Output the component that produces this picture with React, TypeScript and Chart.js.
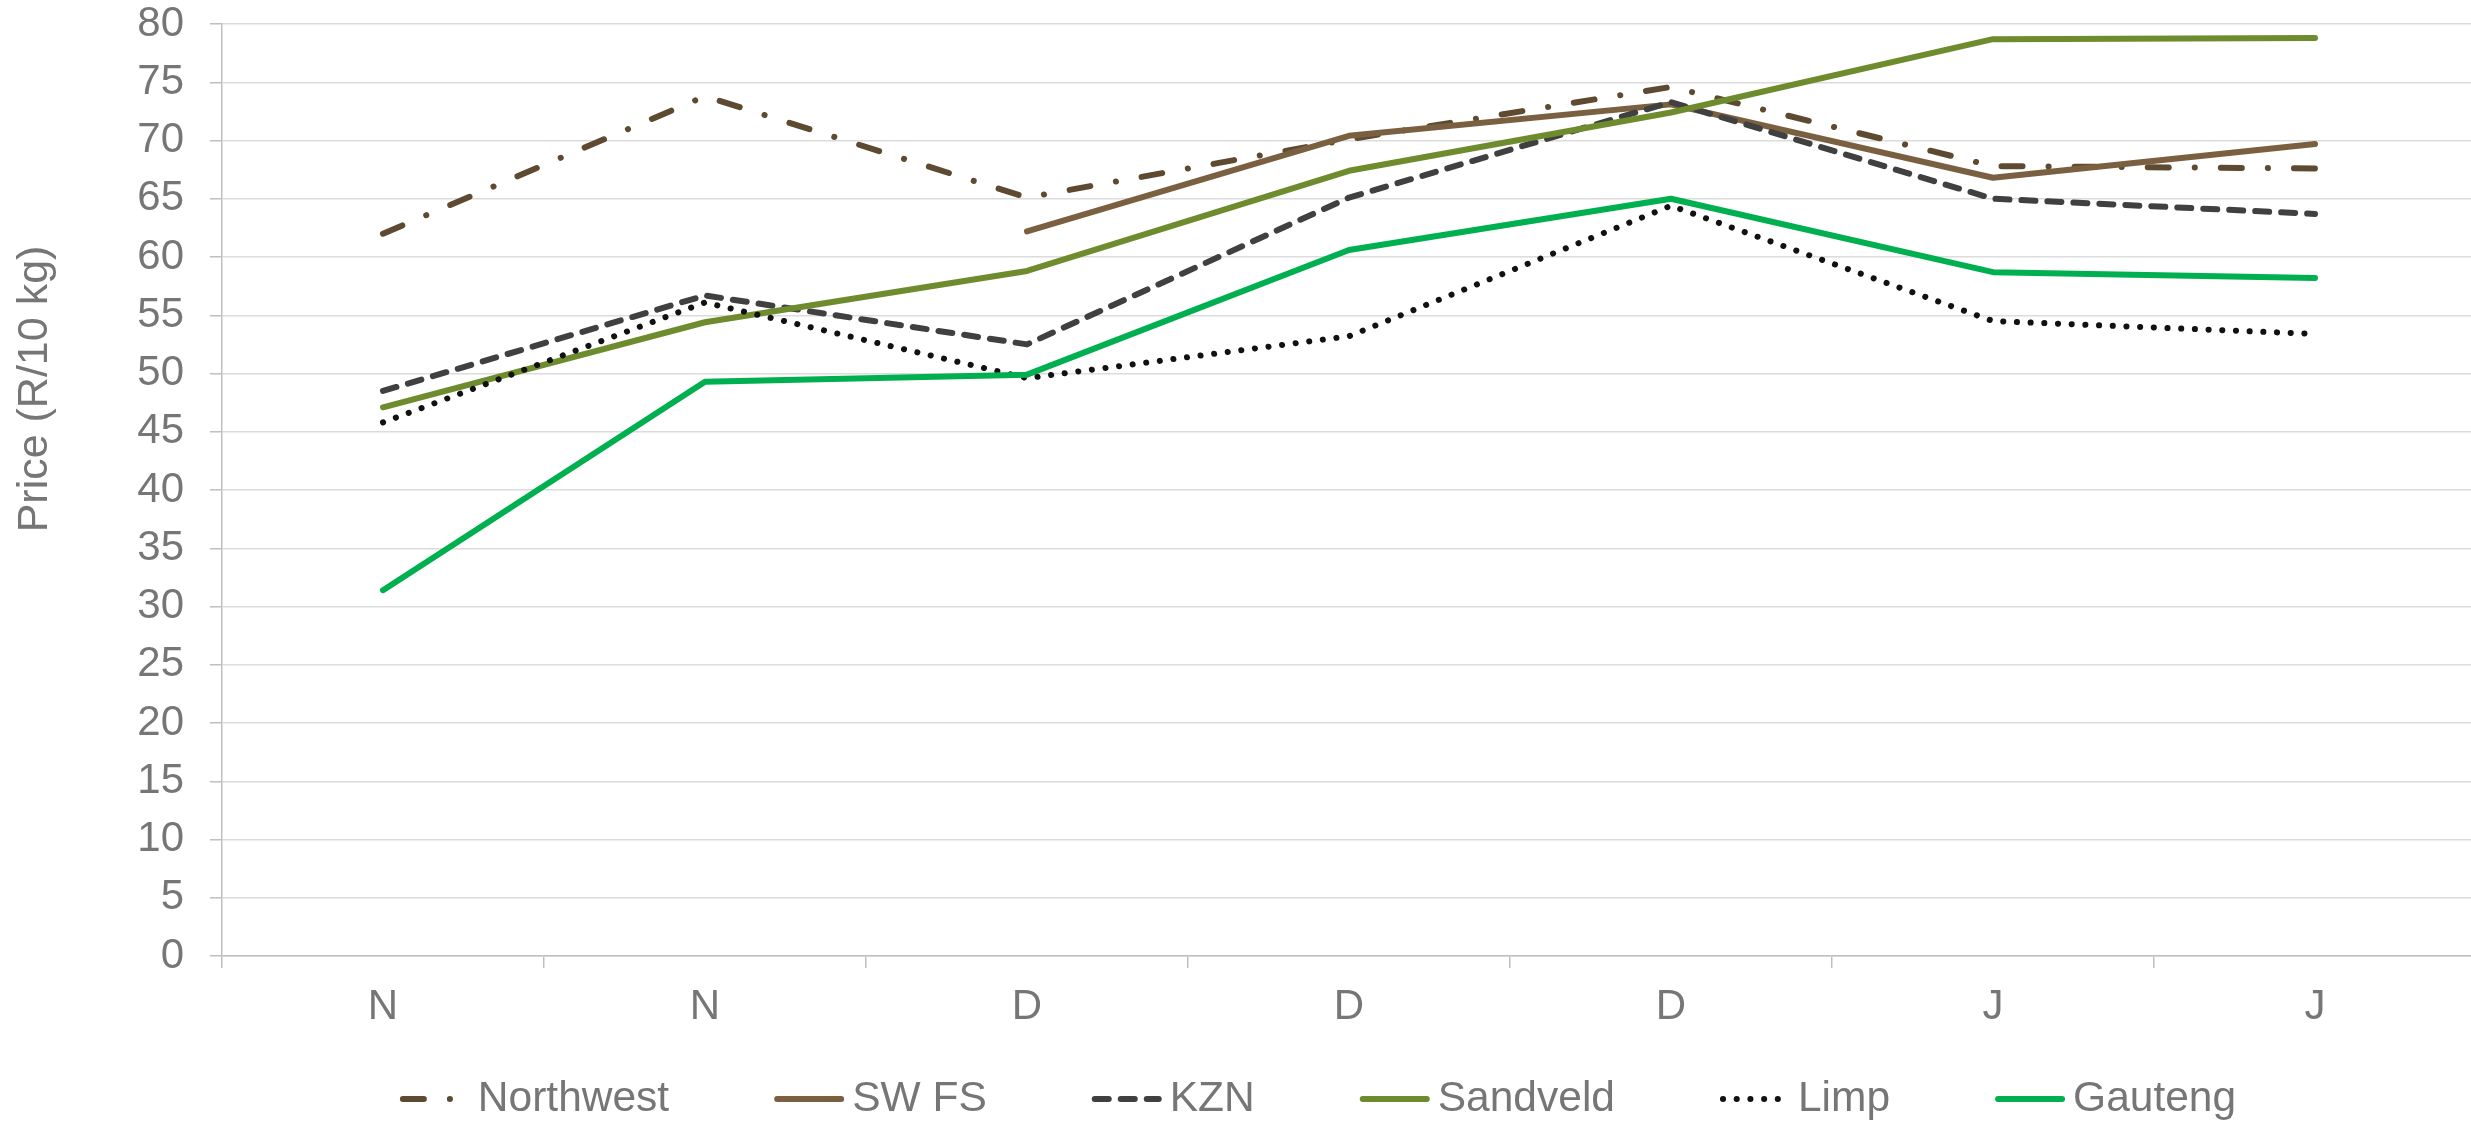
import React, { useEffect, useRef } from "react";
import { Chart, registerables } from "chart.js";

Chart.register(...registerables);

const categories = ["N", "N", "D", "D", "D", "J", "J"];
const northwest = [62.0, 73.8, 65.1, 70.1, 74.6, 67.8, 67.6];
const swfs = [null, null, 62.2, 70.4, 73.1, 66.8, 69.7];
const kzn = [48.5, 56.7, 52.5, 65.1, 73.3, 65.0, 63.7];
const sandveld = [47.1, 54.4, 58.8, 67.4, 72.4, 78.7, 78.8];
const limp = [45.8, 56.1, 49.6, 53.2, 64.4, 54.5, 53.4];
const gauteng = [31.4, 49.3, 49.9, 60.6, 65.0, 58.7, 58.2];
const seriesNames = ["Northwest", "SW FS", "KZN", "Sandveld", "Limp", "Gauteng"];
const yTitle = "Price (R/10 kg)";

const FONT = "'Liberation Sans', Arial, sans-serif";
const TEXT = "#767676";
const FS_TICK = 42;
const FS_LEG = 42.5;
const FS_TITLE = 43;

const styles = [
  { color: "#5E4A30", dash: [21, 26, 0.1, 26] },
  { color: "#7A6040", dash: [] },
  { color: "#404040", dash: [14, 12] },
  { color: "#6E8B2E", dash: [] },
  { color: "#111111", dash: [0.1, 13.6] },
  { color: "#00B050", dash: [] },
];

const customPlugin = {
  id: "customDeco",
  afterDraw(chart: any) {
    const ctx = chart.ctx;
    ctx.save();
    // y axis title
    ctx.translate(35, 389);
    ctx.rotate(-Math.PI / 2);
    ctx.font = `${FS_TITLE}px ${FONT}`;
    ctx.fillStyle = TEXT;
    ctx.textAlign = "center";
    ctx.textBaseline = "middle";
    ctx.fillText(yTitle, 0, 0);
    ctx.restore();

    // legend
    ctx.save();
    ctx.font = `${FS_LEG}px ${FONT}`;
    const sym = 70;
    const gap = 8;
    const itemGap = 105;
    const ds = chart.data.datasets;
    const widths = ds.map((d: any) => ctx.measureText(d.label).width);
    const total =
      widths.reduce((a: number, w: number) => a + w + sym + gap, 0) + itemGap * (ds.length - 1);
    let x = 1318 - total / 2;
    const y = 1099;
    ds.forEach((d: any, i: number) => {
      ctx.save();
      ctx.strokeStyle = d.borderColor;
      ctx.lineWidth = d.borderWidth;
      ctx.lineCap = "round";
      ctx.setLineDash(d.borderDash || []);
      ctx.beginPath();
      ctx.moveTo(x + 3, y);
      ctx.lineTo(x + sym - 3, y);
      ctx.stroke();
      ctx.restore();
      ctx.fillStyle = TEXT;
      ctx.textAlign = "left";
      ctx.textBaseline = "middle";
      ctx.fillText(d.label, x + sym + gap, y);
      x += sym + gap + widths[i] + itemGap;
    });
    ctx.restore();
  },
};

export default function App() {
  const ref = useRef<HTMLCanvasElement>(null);
  useEffect(() => {
    const values = [northwest, swfs, kzn, sandveld, limp, gauteng];
    const chart = new Chart(ref.current as HTMLCanvasElement, {
      type: "line",
      data: {
        labels: categories,
        datasets: values.map((v, i) => ({
          label: seriesNames[i],
          data: v,
          borderColor: styles[i].color,
          backgroundColor: styles[i].color,
          borderWidth: 6,
          borderDash: styles[i].dash,
          borderCapStyle: "round",
          borderJoinStyle: "round",
          pointRadius: 0,
          pointHoverRadius: 0,
          tension: 0,
          spanGaps: false,
          fill: false,
          order: values.length - i,
        })),
      },
      options: {
        animation: false,
        responsive: false,
        devicePixelRatio: 1,
        layout: { padding: { top: 24, left: 0, right: 0, bottom: 0 } },
        plugins: { legend: { display: false }, tooltip: { enabled: false } },
        scales: {
          x: {
            offset: true,
            afterFit: (s: any) => {
              s.height = 169;
              s.paddingLeft = 0;
              s.paddingRight = 0;
            },
            grid: {
              offset: true,
              drawOnChartArea: false,
              drawTicks: true,
              tickLength: 12,
              color: "#bfbfbf",
              lineWidth: 1.5,
            },
            border: { display: true, color: "#bfbfbf", width: 1.5 },
            ticks: {
              color: TEXT,
              font: { family: FONT, size: FS_TICK, lineHeight: 1.2 },
              padding: 14,
              maxRotation: 0,
              autoSkip: false,
            },
          },
          y: {
            min: 0,
            max: 80,
            afterFit: (s: any) => {
              s.width = 222;
              s.paddingTop = 0;
              s.paddingBottom = 0;
            },
            ticks: {
              stepSize: 5,
              color: TEXT,
              font: { family: FONT, size: FS_TICK, lineHeight: 1 },
              padding: 26,
            },
            grid: {
              color: "#dcdcdc",
              lineWidth: 1.5,
              drawTicks: true,
              tickLength: 12,
              tickColor: "#bfbfbf",
            },
            border: { display: true, color: "#bfbfbf", width: 1.5 },
          },
        },
      },
      plugins: [customPlugin],
    });
    return () => chart.destroy();
  }, []);

  return (
    <div
      style={{
        position: "fixed",
        left: 0,
        top: 0,
        width: 2471,
        height: 1125,
        overflow: "hidden",
        background: "#fff",
      }}
    >
      <canvas ref={ref} width={2476} height={1125} style={{ width: 2476, height: 1125, display: "block" }} />
    </div>
  );
}
